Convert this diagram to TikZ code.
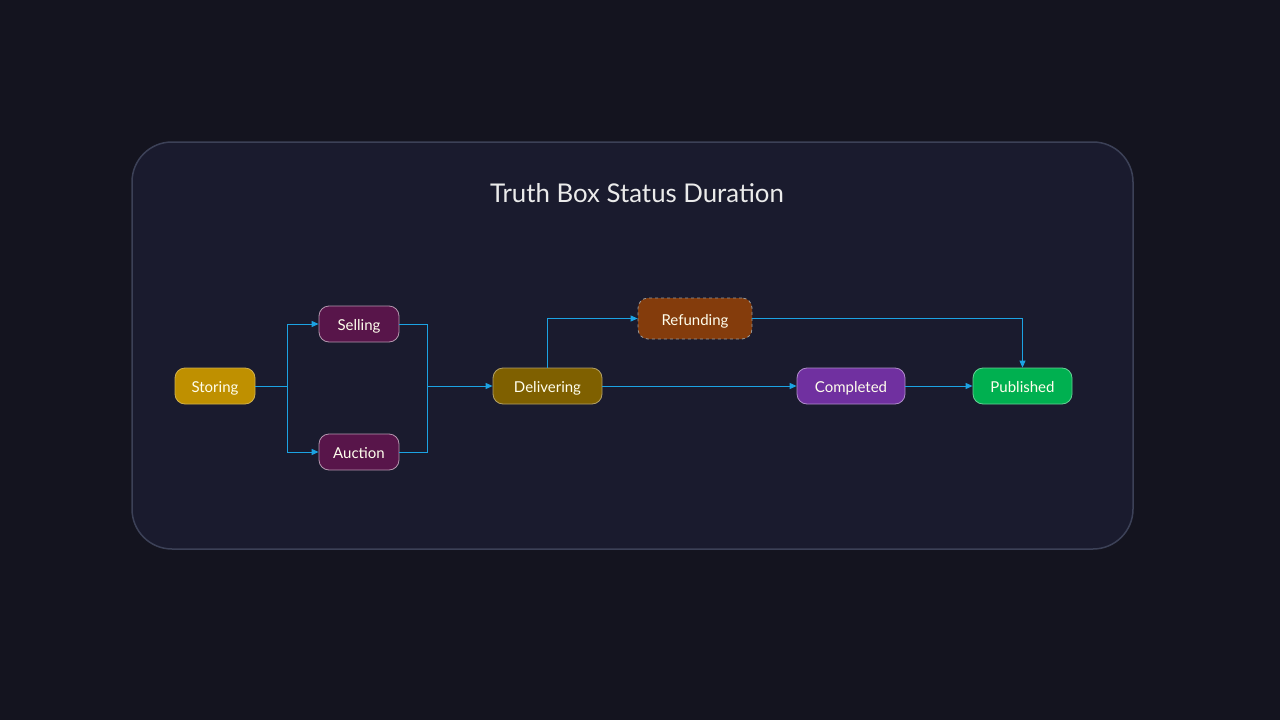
\documentclass[tikz,border=0pt]{standalone}
\usepackage{fontspec}
\setmainfont{Lato}
\usetikzlibrary{arrows.meta}
\definecolor{bg}{HTML}{14141F}
\definecolor{panel}{HTML}{1A1B2E}
\definecolor{panelborder}{HTML}{3C4157}
\definecolor{edge}{HTML}{1CA3E3}
\definecolor{cgold}{HTML}{BF9000}
\definecolor{cmag}{HTML}{58154A}
\definecolor{colive}{HTML}{7F6000}
\definecolor{cbrown}{HTML}{843C0C}
\definecolor{cpurple}{HTML}{7030A0}
\definecolor{cgreen}{HTML}{00B050}
\begin{document}
\begin{tikzpicture}[x=1pt,y=-1pt,
  state/.style={rounded corners=10pt, minimum height=36pt, inner sep=0pt, text height=13pt, text depth=0pt, font=\fontsize{15}{17}\selectfont, text=white!93!yellow, line width=0.8pt},
  conn/.style={draw=edge, line width=1pt, -{Triangle[length=7pt,width=6pt]}},
  plain/.style={draw=edge, line width=1pt}]
\fill[bg] (0,0) rectangle (1280,720);
\useasboundingbox (0,0) rectangle (1280,720);
\draw[fill=panel, draw=panelborder, line width=1.5pt, rounded corners=40pt] (132,142) rectangle (1133,549);
\node[font=\fontsize{25.8}{29}\selectfont, text=white!92!black] (title) at (637,193) {Truth Box Status Duration};

\node[state, fill=cgold, draw=cgold!70!white, minimum width=80pt] (storing) at (215,386) {Storing};
\node[state, fill=cmag, draw=cmag!45!white, minimum width=80pt] (selling) at (359,324) {Selling};
\node[state, fill=cmag, draw=cmag!45!white, minimum width=80pt] (auction) at (359,452) {Auction};
\node[state, fill=colive, draw=colive!60!white, minimum width=109pt] (delivering) at (547.5,386) {Delivering};
\node[state, fill=cbrown, draw=gray!80!white, dashed, minimum width=114pt, minimum height=41pt] (refunding) at (695,318.5) {Refunding};
\node[state, fill=cpurple, draw=cpurple!55!white, minimum width=108pt] (completed) at (851,386) {Completed};
\node[state, fill=cgreen, draw=cgreen!60!white, minimum width=99pt] (published) at (1022.5,386) {Published};

\coordinate (split) at (287,386);
\coordinate (merge) at (427,386);
\draw[plain] (storing.east) -- (split);
\draw[conn] (split) |- (selling.west);
\draw[conn] (split) |- (auction.west);
\draw[plain] (selling.east) -| (merge);
\draw[plain] (auction.east) -| (merge);
\draw[conn] (merge) -- (delivering.west);
\draw[conn] (delivering.north) |- (refunding.west);
\draw[conn] (refunding.east) -| (published.north);
\draw[conn] (delivering.east) -- (completed.west);
\draw[conn] (completed.east) -- (published.west);
\end{tikzpicture}
\end{document}
